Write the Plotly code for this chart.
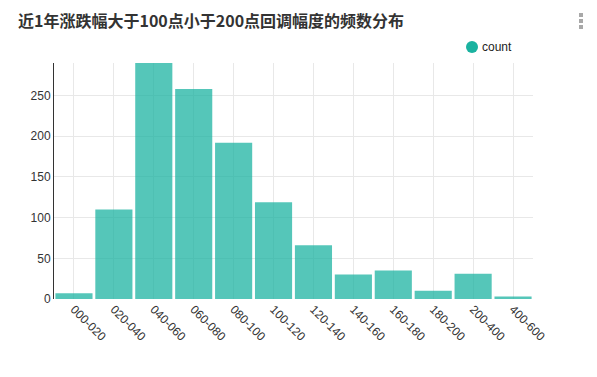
import plotly.graph_objects as go

categories = ["000-020", "020-040", "040-060", "060-080", "080-100", "100-120",
              "120-140", "140-160", "160-180", "180-200", "200-400", "400-600"]
counts = [7, 110, 291, 258, 192, 119, 66, 30, 35, 10, 31, 3]
series_name = "count"
title_text = "近1年涨跌幅大于100点小于200点回调幅度的频数分布"
y_ticks = [0, 50, 100, 150, 200, 250]

# page body has an 8px margin, so figure is sized to fit the window
W, H = 589, 369
L, R, T, B = 46, 64, 55, 78
PW, PH = W - L - R, H - T - B
bar_color = "rgba(26,178,160,0.74)"


def px_x(x):
    return (x - L) / PW


def px_y(y):
    return 1 - (y - T) / PH


fig = go.Figure()
fig.add_trace(go.Bar(
    x=categories, y=counts, name=series_name, showlegend=False,
    marker=dict(color=bar_color, line=dict(width=0)),
))

fig.update_layout(
    width=W, height=H,
    margin=dict(l=L, r=R, t=T, b=B, autoexpand=False),
    paper_bgcolor="white", plot_bgcolor="white",
    bargap=0.07,
    font=dict(family="Arial, Liberation Sans, sans-serif", size=12, color="#333"),
    title=dict(text="<b>" + title_text + "</b>", x=10 / W, xanchor="left",
               y=1 - 13 / H, yanchor="middle",
               font=dict(family="Noto Sans CJK SC, sans-serif", size=16, color="#333")),
    showlegend=False,
    xaxis=dict(type="category", tickangle=45, showgrid=True, gridcolor="#e8e8e8",
               showline=False, ticks="", automargin=False,
               tickfont=dict(size=12, color="#333"), fixedrange=True),
    yaxis=dict(range=[0, 290], tickvals=y_ticks, showgrid=True, gridcolor="#e8e8e8",
               showline=True, linecolor="#333", linewidth=1, ticks="", zeroline=False,
               automargin=False, tickfont=dict(size=12, color="#333")),
)
# legend: circle marker + label
cx, cy, r = 464, 39, 6
fig.add_shape(type="circle", xref="paper", yref="paper",
              x0=px_x(cx - r), x1=px_x(cx + r), y0=px_y(cy + r), y1=px_y(cy - r),
              fillcolor="#1ab2a0", line=dict(width=0))
fig.add_annotation(text=series_name, x=px_x(472), y=px_y(cy), xref="paper", yref="paper",
                   xanchor="left", yanchor="middle", showarrow=False,
                   font=dict(size=12, color="#222"))
# toolbox menu dots
for dy in (-6, 0, 6):
    fig.add_shape(type="rect", xref="paper", yref="paper",
                  x0=px_x(571), x1=px_x(575), y0=px_y(13 + dy + 2), y1=px_y(13 + dy - 2),
                  fillcolor="#a8a8a8", line=dict(width=0))
fig.write_html("out.html")
